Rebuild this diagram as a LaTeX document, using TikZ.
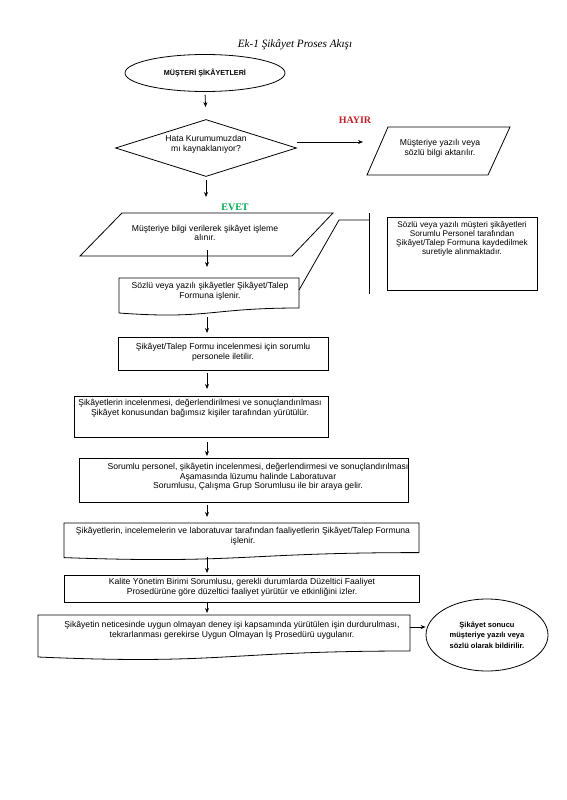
\documentclass[tikz,border=0pt]{standalone}
\usepackage{fontspec}
\setmainfont{Liberation Serif}
\setsansfont{Liberation Sans}
\usetikzlibrary{arrows.meta,shapes.geometric,calc}
\definecolor{hayirred}{RGB}{192,32,40}
\definecolor{evetgreen}{RGB}{0,170,80}
\begin{document}
\begin{tikzpicture}[x=1pt,y=-1pt,
  ln/.style={line width=0.8pt},
  arr/.style={line width=0.8pt,-{Stealth[length=5pt,width=4pt]}},
  txt/.style={font=\sffamily\fontsize{8.6}{9.6}\selectfont,align=center,inner sep=0pt},
  lbl/.style={font=\bfseries\fontsize{10}{11}\selectfont,inner sep=0pt},
  shp/.style={inner sep=0pt,outer sep=0pt},
  boxd/.style={draw,ln,inner sep=0pt,outer sep=0pt}]
\fill[white] (0,0) rectangle (566,800);
\useasboundingbox (0,0) rectangle (566,800);
\coordinate (col) at (207,0);

% title
\node[font=\itshape\fontsize{11.2}{13}\selectfont,inner sep=0pt] (title) at (295,45) {Ek-1 Şikâyet Proses Akışı};

% start ellipse
\node[draw,ln,ellipse,minimum width=160pt,minimum height=37pt,inner sep=0pt,
      font=\sffamily\bfseries\fontsize{7.2}{8}\selectfont] (e1) at (205,73) {MÜŞTERİ ŞİKÂYETLERİ};

% decision
\node[draw,ln,diamond,minimum width=181pt,minimum height=57pt,aspect=3.2,inner sep=0pt] (d1) at (206,148) {};
\node[txt] (td1) at (206,144) {Hata Kurumumuzdan\\mı kaynaklanıyor?};

% HAYIR branch parallelogram
\node[shp,minimum width=143pt,minimum height=48pt] (p1) at (438.5,151) {};
\draw[ln] ($(p1.north west)+(21,0)$) -- (p1.north east) -- ($(p1.south east)+(-22,0)$) -- (p1.south west) -- cycle;
\node[txt] (tp1) at (440,148) {Müşteriye yazılı veya\\sözlü bilgi aktarılır.};
\node[lbl,text=hayirred] (hayir) at (355,120) {HAYIR};

% EVET parallelogram
\node[lbl,text=evetgreen] (evet) at (235,207) {EVET};
\node[shp,minimum width=253pt,minimum height=43pt] (p2) at (206.5,234.5) {};
\draw[ln] ($(p2.north west)+(42,0)$) -- (p2.north east) -- ($(p2.south east)+(-41,0)$) -- (p2.south west) -- cycle;
\node[txt] (tp2) at (205,233) {Müşteriye bilgi verilerek şikâyet işleme\\alınır.};

% document b2
\node[shp,minimum width=180pt,minimum height=37.5pt] (b2) at (209,296.75) {};
\draw[ln] (b2.north west) -- (b2.north east) -- ($(b2.north east)+(0,30)$)
  .. controls ($(b2.north)+(0,30)$) and ($(b2.north)+(0,41.6)$) .. ($(b2.north west)+(0,35)$) -- cycle;
\node[txt] (tb2) at (210,291) {Sözlü veya yazılı şikâyetler Şikâyet/Talep\\Formuna işlenir.};

% annotation
\coordinate (brt) at (369,213);
\coordinate (brb) at (369,294);
\coordinate (brk) at (339,220);
\draw[ln] (brt) -- (brb);
\draw[ln] ($(b2.north east)+(0,12)$) -- (brk) -- (brk -| brt);
\node[boxd,minimum width=150pt,minimum height=73pt] (b9) at (462,253.5) {};
\node[txt,font=\sffamily\fontsize{8.2}{9.2}\selectfont] (tb9) at (462,239) {Sözlü veya yazılı müşteri şikâyetleri\\Sorumlu Personel tarafından\\Şikâyet/Talep Formuna kaydedilmek\\suretiyle alınmaktadır.};

% boxes
\node[boxd,minimum width=210pt,minimum height=33pt] (b3) at (223,353.5) {};
\node[txt] (tb3) at (223,352) {Şikâyet/Talep Formu incelenmesi için sorumlu\\personele iletilir.};

\node[boxd,minimum width=254pt,minimum height=41pt] (b4) at (201,416.5) {};
\node[txt] (tb4) at (200,408) {Şikâyetlerin incelenmesi, değerlendirilmesi ve sonuçlandırılması\\Şikâyet konusundan bağımsız kişiler tarafından yürütülür.};

\node[boxd,minimum width=329pt,minimum height=44pt] (b5) at (243.5,480) {};
\node[txt] (tb5) at (258,477) {Sorumlu personel, şikâyetin incelenmesi, değerlendirmesi ve sonuçlandırılması\\Aşamasında lüzumu halinde Laboratuvar\\Sorumlusu, Çalışma Grup Sorumlusu ile bir araya gelir.};

\node[shp,minimum width=355pt,minimum height=37pt] (b6) at (241.5,541.5) {};
\draw[ln] (b6.north west) -- (b6.north east) -- ($(b6.north east)+(0,29.6)$)
  .. controls ($(b6.north)+(0,29.6)$) and ($(b6.north)+(0,41)$) .. ($(b6.north west)+(0,34.6)$) -- cycle;
\node[txt] (tb6) at (243,536) {Şikâyetlerin, incelemelerin ve laboratuvar tarafından faaliyetlerin Şikâyet/Talep Formuna\\işlenir.};

\node[boxd,minimum width=355pt,minimum height=27pt] (b7) at (241.5,588.5) {};
\node[txt] (tb7) at (242,587) {Kalite Yönetim Birimi Sorumlusu, gerekli durumlarda Düzeltici Faaliyet\\Prosedürüne göre düzeltici faaliyet yürütür ve etkinliğini izler.};

\node[shp,minimum width=372pt,minimum height=45pt] (b8) at (224,637.5) {};
\draw[ln] (b8.north west) -- (b8.north east) -- ($(b8.north east)+(0,36)$)
  .. controls ($(b8.north)+(0,36)$) and ($(b8.north)+(0,50)$) .. ($(b8.north west)+(0,42)$) -- cycle;
\node[txt] (tb8) at (232,630) {Şikâyetin neticesinde uygun olmayan deney işi kapsamında yürütülen işin durdurulması,\\tekrarlanması gerekirse Uygun Olmayan İş Prosedürü uygulanır.};

\node[draw,ln,ellipse,minimum width=122pt,minimum height=72pt,inner sep=0pt] (e2) at (487,635) {};
\node[txt,font=\sffamily\bfseries\fontsize{7.5}{10.5}\selectfont] (te2) at (487,635) {Şikâyet sonucu\\müşteriye yazılı veya\\sözlü olarak bildirilir.};

% connectors
\draw[arr,shorten <=3pt,shorten >=12pt] (e1.south) -- (d1.north);
\draw[arr,shorten >=4pt] ([yshift=6pt]d1.east) -- ([yshift=6pt]d1.east -| p1.west);
\draw[arr,shorten <=3.5pt,shorten >=16pt] (d1.south) -- (d1.south |- p2.north);
\draw[arr,shorten >=11pt] ([yshift=6pt]p2.south -| col) -- (b2.north -| col);
\draw[arr,shorten <=1.5pt,shorten >=4pt] (b2.south -| col) -- (b3.north -| col);
\draw[arr,shorten <=3pt,shorten >=7pt] (b3.south -| col) -- (b4.north -| col);
\draw[arr,shorten <=5pt,shorten >=2pt] (b4.south -| col) -- (b5.north -| col);
\draw[arr,shorten <=3pt,shorten >=6pt] (b5.south -| col) -- (b6.north -| col);
\draw[arr,shorten >=2pt] ([yshift=3pt]b6.south -| col) -- (b7.north -| col);
\draw[arr,shorten <=1pt,shorten >=2pt] (b7.south -| col) -- (b8.north -| col);
\coordinate (ay) at (0,627);
\draw[arr] (b8.east |- ay) -- (e2.west |- ay);
\end{tikzpicture}
\end{document}
